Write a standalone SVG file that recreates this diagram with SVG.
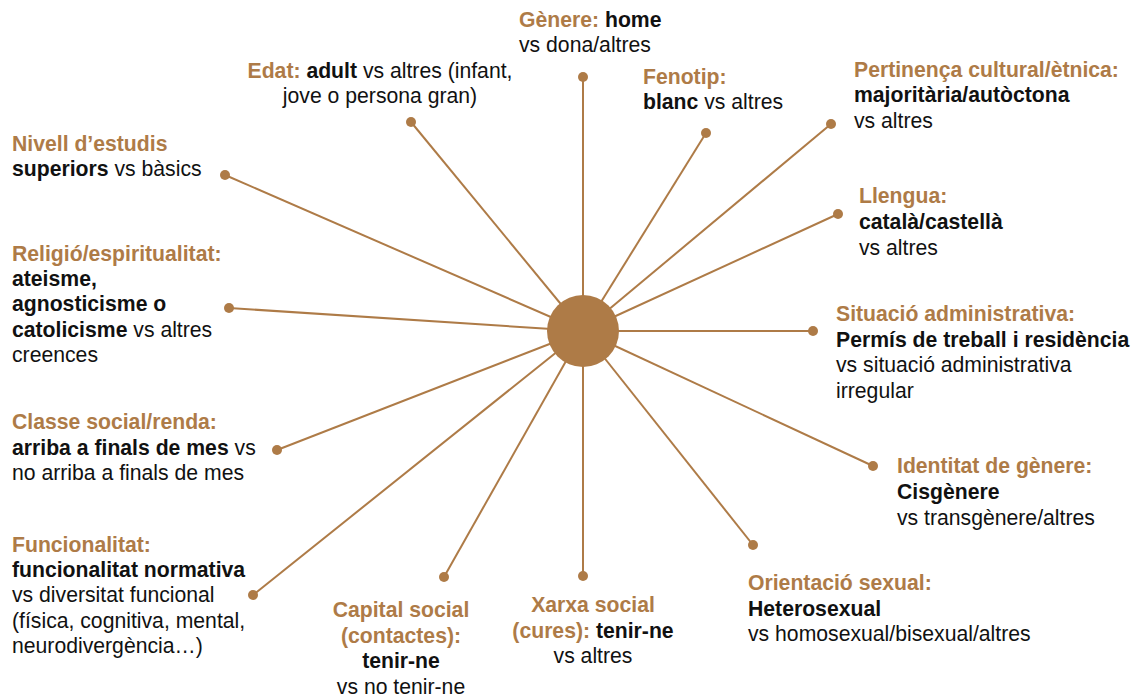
<svg xmlns="http://www.w3.org/2000/svg" width="1146" height="697" viewBox="0 0 1146 697">
<style>
text{font-family:"Liberation Sans",Arial,sans-serif;font-size:21.2px;fill:#111}
.h{fill:#AE7B47;font-weight:bold}
.b{font-weight:bold}
.c{text-anchor:middle}
.ln{stroke:#AE7B47;stroke-width:2;fill:none}
.dot{fill:#AE7B47}
</style>
<rect width="1146" height="697" fill="#fff"/>
<g id="connectors">
<line class="ln" x1="583" y1="331" x2="583" y2="77"/>
<line class="ln" x1="583" y1="331" x2="411" y2="122"/>
<line class="ln" x1="583" y1="331" x2="706" y2="133"/>
<line class="ln" x1="583" y1="331" x2="831" y2="124"/>
<line class="ln" x1="583" y1="331" x2="225" y2="175"/>
<line class="ln" x1="583" y1="331" x2="838" y2="214"/>
<line class="ln" x1="583" y1="331" x2="229" y2="308"/>
<line class="ln" x1="583" y1="331" x2="813" y2="331"/>
<line class="ln" x1="583" y1="331" x2="277" y2="450"/>
<line class="ln" x1="583" y1="331" x2="873" y2="466"/>
<line class="ln" x1="583" y1="331" x2="253" y2="595"/>
<line class="ln" x1="583" y1="331" x2="753" y2="545"/>
<line class="ln" x1="583" y1="331" x2="444" y2="577"/>
<line class="ln" x1="583" y1="331" x2="583" y2="576"/>
</g>
<g id="center"><circle cx="583" cy="331" r="36" fill="#AE7B47"/></g>
<g id="genere"><circle class="dot" cx="583" cy="77" r="5"/>
<text x="519" y="27"><tspan class="h">Gènere:</tspan> <tspan class="b">home</tspan></text>
<text x="519" y="52">vs dona/altres</text></g>
<g id="edat"><circle class="dot" cx="411" cy="122" r="5"/>
<text class="c" x="380" y="78"><tspan class="h">Edat:</tspan> <tspan class="b">adult</tspan> vs altres (infant,</text>
<text class="c" x="380" y="103">jove o persona gran)</text></g>
<g id="fenotip"><circle class="dot" cx="706" cy="133" r="5"/>
<text x="643" y="84" class="h">Fenotip:</text>
<text x="643" y="109"><tspan class="b">blanc</tspan> vs altres</text></g>
<g id="pertinenca"><circle class="dot" cx="831" cy="124" r="5"/>
<text x="854" y="77" class="h">Pertinença cultural/ètnica:</text>
<text x="854" y="102" class="b">majoritària/autòctona</text>
<text x="854" y="128">vs altres</text></g>
<g id="nivell"><circle class="dot" cx="225" cy="175" r="5"/>
<text x="12" y="151" class="h">Nivell d’estudis</text>
<text x="12" y="176"><tspan class="b">superiors</tspan> vs bàsics</text></g>
<g id="llengua"><circle class="dot" cx="838" cy="214" r="5"/>
<text x="859" y="203" class="h">Llengua:</text>
<text x="859" y="229" class="b">català/castellà</text>
<text x="859" y="255">vs altres</text></g>
<g id="religio"><circle class="dot" cx="229" cy="308" r="5"/>
<text x="12" y="261" class="h">Religió/espiritualitat:</text>
<text x="12" y="286" class="b">ateisme,</text>
<text x="12" y="311" class="b">agnosticisme o</text>
<text x="12" y="337"><tspan class="b">catolicisme</tspan> vs altres</text>
<text x="12" y="362">creences</text></g>
<g id="situacio"><circle class="dot" cx="813" cy="331" r="5"/>
<text x="836" y="321" class="h">Situació administrativa:</text>
<text x="836" y="347" class="b">Permís de treball i residència</text>
<text x="836" y="372">vs situació administrativa</text>
<text x="836" y="398">irregular</text></g>
<g id="classe"><circle class="dot" cx="277" cy="450" r="5"/>
<text x="12" y="429" class="h">Classe social/renda:</text>
<text x="12" y="455"><tspan class="b">arriba a finals de mes</tspan> vs</text>
<text x="12" y="480">no arriba a finals de mes</text></g>
<g id="identitat"><circle class="dot" cx="873" cy="466" r="5"/>
<text x="897" y="473" class="h">Identitat de gènere:</text>
<text x="897" y="499" class="b">Cisgènere</text>
<text x="897" y="525">vs transgènere/altres</text></g>
<g id="funcionalitat"><circle class="dot" cx="253" cy="595" r="5"/>
<text x="12" y="552" class="h">Funcionalitat:</text>
<text x="12" y="577" class="b">funcionalitat normativa</text>
<text x="12" y="602">vs diversitat funcional</text>
<text x="12" y="628">(física, cognitiva, mental,</text>
<text x="12" y="653">neurodivergència…)</text></g>
<g id="orientacio"><circle class="dot" cx="753" cy="545" r="5"/>
<text x="748" y="590" class="h">Orientació sexual:</text>
<text x="748" y="616" class="b">Heterosexual</text>
<text x="748" y="641">vs homosexual/bisexual/altres</text></g>
<g id="capital"><circle class="dot" cx="444" cy="577" r="5"/>
<text class="c h" x="401" y="617">Capital social</text>
<text class="c h" x="401" y="643">(contactes):</text>
<text class="c b" x="401" y="668">tenir-ne</text>
<text class="c" x="401" y="694">vs no tenir-ne</text></g>
<g id="xarxa"><circle class="dot" cx="583" cy="576" r="5"/>
<text class="c h" x="593" y="612">Xarxa social</text>
<text class="c" x="593" y="638"><tspan class="h">(cures):</tspan> <tspan class="b">tenir-ne</tspan></text>
<text class="c" x="593" y="663">vs altres</text></g>
</svg>
